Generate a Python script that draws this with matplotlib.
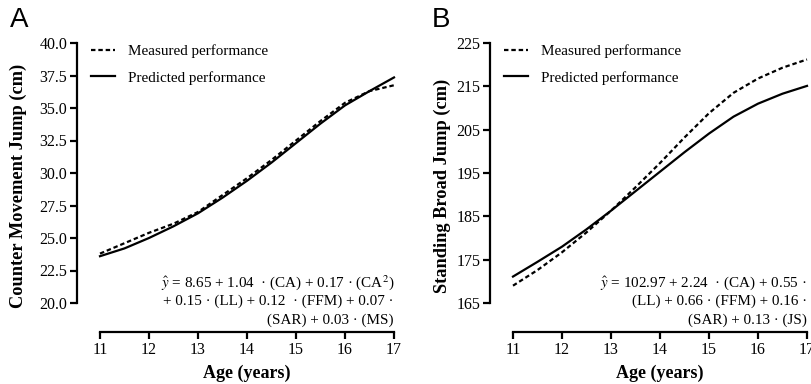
import matplotlib
matplotlib.use('Agg')
import matplotlib.pyplot as plt

# data
age = [11, 11.5, 12, 12.5, 13, 13.5, 14, 14.5, 15, 15.5, 16, 16.5, 17]

cmj_measured = [23.8, 24.6, 25.4, 26.1, 27.0, 28.3, 29.6, 31.0, 32.5, 34.0, 35.4, 36.3, 36.75]
cmj_predicted = [23.6, 24.2, 25.0, 25.9, 26.9, 28.1, 29.4, 30.8, 32.3, 33.8, 35.2, 36.3, 37.35]

sbj_measured = [169.0, 172.6, 176.7, 181.3, 186.3, 191.7, 197.3, 203.2, 208.8, 213.5, 216.8, 219.3, 221.2]
sbj_predicted = [171.1, 174.5, 178.0, 182.0, 186.3, 190.8, 195.3, 199.8, 204.1, 208.0, 211.0, 213.3, 215.1]

x_ticks = [11, 12, 13, 14, 15, 16, 17]
cmj_ticks = [20.0, 22.5, 25.0, 27.5, 30.0, 32.5, 35.0, 37.5, 40.0]
sbj_ticks = [165, 175, 185, 195, 205, 215, 225]

cmj_eq = [r'$\hat{y}$ = 8.65 + 1.04  · (CA) + 0.17 · (CA$^2$)',
          '+ 0.15 · (LL) + 0.12  · (FFM) + 0.07 ·',
          '(SAR) + 0.03 · (MS)']
sbj_eq = [r'$\hat{y}$ = 102.97 + 2.24  · (CA) + 0.55 ·',
          '(LL) + 0.66 · (FFM) + 0.16 ·',
          '(SAR) + 0.13 · (JS)']

SERIF = 'Liberation Serif'
plt.rcParams['font.family'] = SERIF
plt.rcParams['mathtext.fontset'] = 'stix'

W, H = 812, 384
fig = plt.figure(figsize=(W / 100, H / 100), dpi=100)


def px_axes(x0, x1, y_top, y_bot):
    return fig.add_axes([x0 / W, 1 - y_bot / H, (x1 - x0) / W, (y_bot - y_top) / H])


def style_panel(ax, ylim, yticks, yfmt, ylabel, letter, letter_x, eq, ylabel_x):
    ax.set_xlim(11, 17)
    ax.set_ylim(*ylim)
    for s in ['top', 'right']:
        ax.spines[s].set_visible(False)
    ax.spines['left'].set_position(('outward', 16.5))
    ax.spines['bottom'].set_position(('outward', 21))
    for s in ['left', 'bottom']:
        ax.spines[s].set_linewidth(1.6)
    ax.set_xticks(x_ticks)
    ax.set_yticks(yticks)
    ax.set_yticklabels([yfmt.format(v) for v in yticks])
    ax.tick_params(width=1.6, length=5, labelsize=11.5, colors='black', pad=2)
    ax.set_xlabel('Age (years)', fontsize=13, fontweight='bold', labelpad=5)
    fig.text(ylabel_x / W, 1 - 186 / H, ylabel, rotation=90, ha='center', va='center',
             fontsize=13.2, fontweight='bold')
    fig.text(letter_x / W, 1 - 20 / H, letter, family='Liberation Sans', fontsize=20,
             ha='left', va='center')
    ax.legend(loc='upper left', bbox_to_anchor=(-0.03, 0.995), frameon=False,
              fontsize=10.9, handlelength=1.6, handletextpad=0.85, labelspacing=0.85,
              borderpad=0, borderaxespad=0)
    for i, line in enumerate(eq):
        ax.text(1.0, 0.077 - i * 0.071, line, transform=ax.transAxes, ha='right', va='center',
                fontsize=10.9)


dash = (0, (2.0, 1.3))

axA = px_axes(100, 394, 43, 303)
axA.plot(age, cmj_measured, color='black', lw=1.6, ls=dash, label='Measured performance', clip_on=False)
axA.plot(age, cmj_predicted, color='black', lw=1.6, label='Predicted performance', clip_on=False)
style_panel(axA, (20, 40), cmj_ticks, '{:.1f}', 'Counter Movement Jump (cm)', 'A', 10, cmj_eq, 18)

axB = px_axes(513, 807, 43, 303)
axB.plot(age, sbj_measured, color='black', lw=1.6, ls=dash, label='Measured performance', clip_on=False)
axB.plot(age, sbj_predicted, color='black', lw=1.6, label='Predicted performance', clip_on=False)
style_panel(axB, (165, 225), sbj_ticks, '{:d}', 'Standing Broad Jump (cm)', 'B', 432, sbj_eq, 442)

fig.savefig('out.png', dpi=100)
